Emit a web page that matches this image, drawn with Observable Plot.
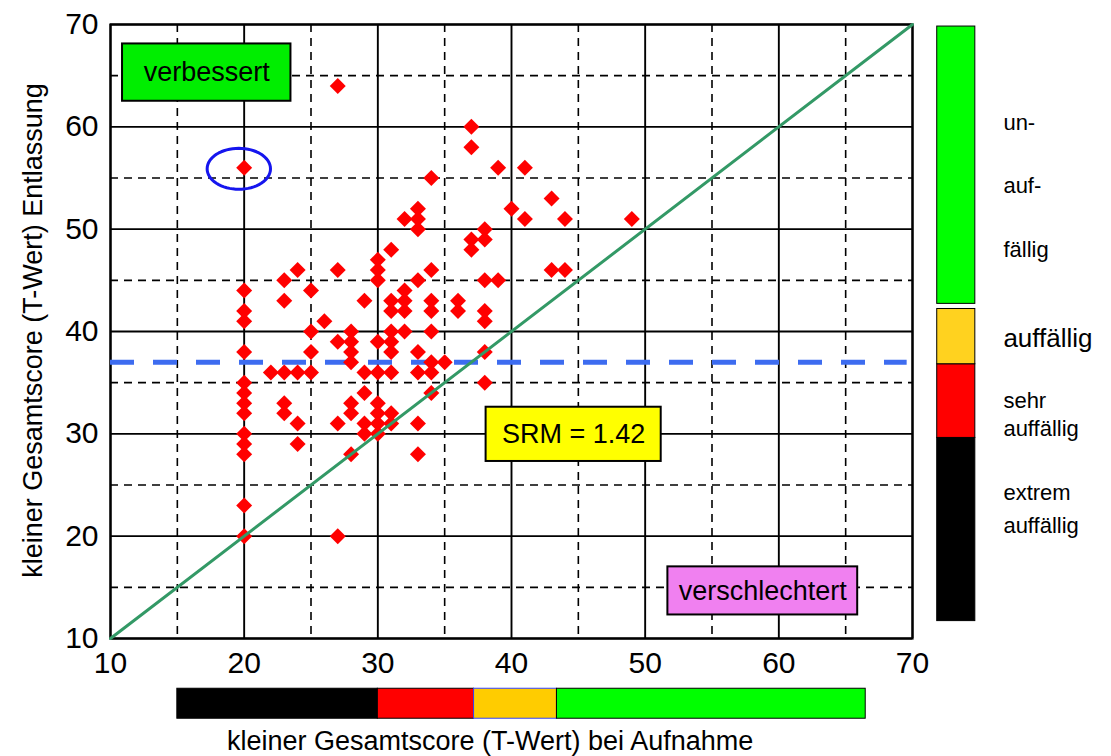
<!DOCTYPE html>
<html><head><meta charset="utf-8">
<script src="https://cdn.jsdelivr.net/npm/d3@7"></script>
<script src="https://cdn.jsdelivr.net/npm/@observablehq/plot@0.6"></script>
<style>body{margin:0;background:#fff;} #chart svg{display:block}</style>
</head><body><div id="chart"></div>
<script>
// T-Werte bei Aufnahme (x) und Entlassung (y)
const aufnahme = [
  20,20,20,20,20,20,20,20,20,20,20,20,20,20,
  22,
  23,23,23,23,23,
  24,24,24,24,
  25,25,25,25,
  26,
  27,27,27,27,27,
  28,28,28,28,28,28,28,
  29,29,29,29,29,
  30,30,30,30,30,30,30,30,30,
  31,31,31,31,31,31,31,31,31,
  32,32,32,32,32,
  33,33,33,33,33,33,33,33,
  34,34,34,34,34,34,34,34,
  35,
  36,36,
  37,37,37,37,
  38,38,38,38,38,38,38,
  39,39,
  40,
  41,41,
  43,43,
  44,44,
  49
];
const entlassung = [
  56,44,42,41,38,35,34,33,32,30,29,28,23,20,
  36,
  45,43,36,33,32,
  46,36,31,29,
  44,40,38,36,
  41,
  64,46,39,31,20,
  40,39,38,37,33,32,28,
  43,36,34,31,30,
  47,46,45,39,36,33,32,31,30,
  48,43,42,40,39,38,36,32,31,
  51,44,43,42,40,
  52,51,50,45,38,36,31,28,
  55,46,43,42,40,37,36,34,
  37,
  43,42,
  60,58,49,48,
  50,49,45,42,41,38,35,
  56,45,
  52,
  56,51,
  53,46,
  51,46,
  51
];
const majorTicks = [10,20,30,40,50,60,70];
const minorTicks = [15,25,35,45,55,65];
const cutoff = [37];

// colour bands (T-value ranges)
const bandNames  = ["extrem auffällig","sehr auffällig","auffällig","unauffällig"];
const bandColors = ["#000000","#ff0000","#ffcc00","#00ff00"];
const bandLowX   = [15, 30, 37.2, 43.4];
const bandHighX  = [30, 37.2, 43.4, 66.5];
const bandLowY   = [11.7, 29.6, 36.8, 42.7];
const bandHighY  = [29.6, 36.8, 42.2, 69.8];

// annotation boxes
const boxLabels = ["verbessert","SRM = 1.42","verschlechtert"];
const boxFills  = ["#00ee00","#ffff00","#f080f0"];
const boxX1 = [10.9, 38.1, 51.7];
const boxX2 = [23.5, 51.2, 65.9];
const boxY1 = [62.5, 27.3, 12.3];
const boxY2 = [68.1, 32.6, 17.0];

// right legend labels
const legendText = ["un-","auf-","fällig","auffällig","sehr","auffällig","extrem","auffällig"];
const legendY    = [60.4, 54.2, 48.0, 39.3, 33.2, 30.5, 24.2, 21.0];
const legendSize = [22,22,22,26,22,22,22,22];

const points = aufnahme.map((a,i)=>({x:a, y:entlassung[i]}));
const bands = bandNames.map((n,i)=>({n, c:bandColors[i], x1:bandLowX[i], x2:bandHighX[i], y1:bandLowY[i], y2:bandHighY[i]}));
const boxes = boxLabels.map((l,i)=>({l, f:boxFills[i], x1:boxX1[i], x2:boxX2[i], y1:boxY1[i], y2:boxY2[i]}));
const legend = legendText.map((t,i)=>({t, y:legendY[i], s:legendSize[i]}));

// highlighted point marker (ellipse)
const ell = {cx:19.6, cy:55.9, rx:2.37, ry:2.0};
const ellPts = d3.range(0, 65).map(k => {
  const t = k/64*2*Math.PI;
  return {x: ell.cx + ell.rx*Math.cos(t), y: ell.cy + ell.ry*Math.sin(t)};
});

const font = "'Liberation Sans', Arial, sans-serif";

const chart = Plot.plot({
  width: 1111, height: 756,
  marginLeft: 110, marginRight: 199, marginTop: 24, marginBottom: 118,
  style: {fontFamily: font, fontSize: "28px", background: "#fff", color: "black"},
  x: {domain: [10,70], ticks: majorTicks, label: null},
  y: {domain: [10,70], ticks: majorTicks, label: null},
  marks: [
    Plot.ruleX(minorTicks, {stroke: "black", strokeWidth: 1.6, strokeDasharray: "8,6"}),
    Plot.ruleY(minorTicks, {stroke: "black", strokeWidth: 1.6, strokeDasharray: "8,6"}),
    Plot.ruleX(majorTicks, {stroke: "black", strokeWidth: 1.9}),
    Plot.ruleY(majorTicks, {stroke: "black", strokeWidth: 1.9}),
    Plot.frame({stroke: "black", strokeWidth: 2.2}),
    Plot.ruleY(cutoff, {x1: 10, x2: 69.6, stroke: "#3d6cf0", strokeWidth: 5, strokeDasharray: "24,19"}),
    Plot.dot(points, {x: "x", y: "y", symbol: "diamond2", r: 7.2, fill: "#ff0000", stroke: "none"}),
    Plot.line([{x:10,y:10},{x:70,y:70}], {x: "x", y: "y", stroke: "#339966", strokeWidth: 3}),
    Plot.line(ellPts, {x: "x", y: "y", stroke: "#1515ee", strokeWidth: 3, curve: "linear"}),
    // annotation boxes
    Plot.rect(boxes, {x1: "x1", x2: "x2", y1: "y1", y2: "y2", fill: "f", stroke: "black", strokeWidth: 2}),
    Plot.text(boxes, {x: d => (d.x1+d.x2)/2, y: d => (d.y1+d.y2)/2, text: "l", fontSize: 27, fill: "black"}),
    // bottom colour bar
    Plot.rect(bands, {x1: "x1", x2: "x2", y1: 2.16, y2: 5.09, fill: "c", stroke: d => d.n === "auffällig" ? "#3344ff" : "black", strokeWidth: 1}),
    // right colour bar
    Plot.rect(bands, {x1: 71.85, x2: 74.7, y1: "y1", y2: "y2", fill: d => d.n === "auffällig" ? "#ffd21f" : d.c, stroke: "black", strokeWidth: 1}),
    Plot.text(legend, {x: 76.8, y: "y", text: "t", fontSize: d => d.s, textAnchor: "start", fill: "black"}),
    // axes
    Plot.axisX(majorTicks, {tickSize: 0, tickPadding: 13, fontSize: 30}),
    Plot.axisY(majorTicks, {tickSize: 0, tickPadding: 12, fontSize: 30}),
    // axis titles
    Plot.text(["kleiner Gesamtscore (T-Wert) bei Aufnahme"], {x: 38.4, y: -0.1, text: d => d, fontSize: 27}),
    Plot.text(["kleiner Gesamtscore (T-Wert) Entlassung"], {x: 4.24, y: 40.1, text: d => d, rotate: -90, fontSize: 27})
  ]
});
document.getElementById("chart").append(chart);
</script>
</body></html>
